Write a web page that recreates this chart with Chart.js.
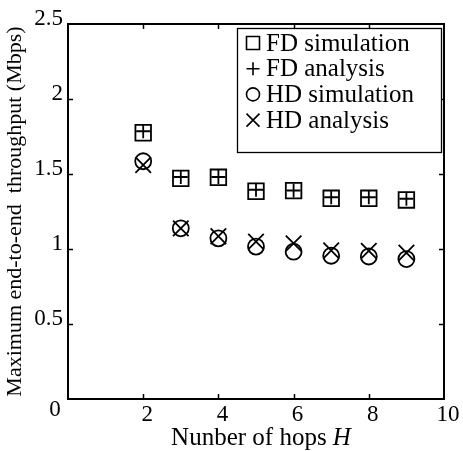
<!DOCTYPE html>
<html>
<head>
<meta charset="utf-8">
<script src="https://cdn.jsdelivr.net/npm/chart.js@4/dist/chart.umd.min.js"></script>
<style>
  html, body { margin: 0; padding: 0; background: #fff; }
</style>
</head>
<body>
<canvas id="c" width="463" height="451"></canvas>
<script>
const hops = [2, 3, 4, 5, 6, 7, 8, 9];
const fdSim = [1.775, 1.471, 1.478, 1.385, 1.389, 1.338, 1.338, 1.327];
const fdAna = [1.785, 1.48, 1.48, 1.395, 1.39, 1.345, 1.345, 1.335];
const hdSim = [1.585, 1.138, 1.071, 1.016, 0.982, 0.955, 0.95, 0.933];
const hdAna = [1.56, 1.138, 1.085, 1.049, 1.038, 0.99, 0.988, 0.975];
const seriesNames = ["FD simulation", "FD analysis", "HD simulation", "HD analysis"];
const xTicks = [2, 4, 6, 8];
const yTicks = [0.5, 1, 1.5, 2];

const serif = "'Liberation Serif', 'DejaVu Serif', serif";
const pts = (ys) => hops.map((h, i) => ({ x: h, y: ys[i] }));

function ds(label, ys, style, r) {
  return {
    label: label,
    data: pts(ys),
    pointStyle: style,
    pointRadius: r,
    pointHoverRadius: r,
    borderColor: "#000",
    backgroundColor: "rgba(0,0,0,0)",
    pointBorderWidth: 1.8,
    showLine: false
  };
}

// legend symbols, drawn by hand
function sym(ctx, style, x, y, s) {
  ctx.beginPath();
  if (style == "rect") ctx.rect(x - s, y - s, 2 * s, 2 * s);
  if (style == "cross") { ctx.moveTo(x - s, y); ctx.lineTo(x + s, y); ctx.moveTo(x, y - s); ctx.lineTo(x, y + s); }
  if (style == "circle") ctx.arc(x, y, s, 0, Math.PI * 2);
  if (style == "crossRot") { ctx.moveTo(x - s, y - s); ctx.lineTo(x + s, y + s); ctx.moveTo(x + s, y - s); ctx.lineTo(x - s, y + s); }
  ctx.stroke();
}

const frame = {
  id: "frame",
  afterDraw(chart) {
    const ctx = chart.ctx;
    const a = chart.chartArea;
    const xs = chart.scales.x, ys = chart.scales.y;
    ctx.save();
    ctx.strokeStyle = "#000";
    ctx.lineWidth = 2;
    ctx.strokeRect(a.left, a.top, a.right - a.left, a.bottom - a.top);
    ctx.lineWidth = 1.5;
    ctx.beginPath();
    xTicks.forEach(v => {
      const px = Math.round(xs.getPixelForValue(v)) + 0.5;
      ctx.moveTo(px, a.bottom); ctx.lineTo(px, a.bottom - 5);
      ctx.moveTo(px, a.top); ctx.lineTo(px, a.top + 5);
    });
    yTicks.forEach(v => {
      const py = Math.round(ys.getPixelForValue(v)) + 0.5;
      ctx.moveTo(a.left, py); ctx.lineTo(a.left + 5, py);
      ctx.moveTo(a.right, py); ctx.lineTo(a.right - 5, py);
    });
    ctx.stroke();

    // shared origin label
    ctx.fillStyle = "#000";
    ctx.font = "23px " + serif;
    ctx.textAlign = "center";
    ctx.textBaseline = "middle";
    ctx.fillText("0", 55, 410);

    // x axis title with italic H
    ctx.textBaseline = "alphabetic";
    ctx.textAlign = "left";
    const t1 = "Nunber of hops ";
    ctx.font = "25px " + serif;
    const w1 = ctx.measureText(t1).width;
    ctx.font = "italic 25px " + serif;
    const w2 = ctx.measureText("H").width;
    const x0 = (a.left + a.right) / 2 + 5 - (w1 + w2) / 2;
    ctx.font = "25px " + serif;
    ctx.fillText(t1, x0, 445);
    ctx.font = "italic 25px " + serif;
    ctx.fillText("H", x0 + w1, 445);

    // legend box
    const bx = 237, by = 28, bw = 204, bh = 124;
    ctx.fillStyle = "#fff";
    ctx.fillRect(bx, by, bw, bh);
    ctx.lineWidth = 1.3;
    ctx.strokeRect(bx + 0.5, by + 0.5, bw, bh);
    ctx.lineWidth = 1.6;
    ctx.fillStyle = "#000";
    ctx.font = "25px " + serif;
    ctx.textBaseline = "middle";
    chart.data.datasets.forEach((d, i) => {
      const yy = 43 + i * 25.7;
      sym(ctx, d.pointStyle, 253, yy, 6.5);
      ctx.fillText(seriesNames[i], 266, yy + 1);
    });
    ctx.restore();
  }
};

new Chart(document.getElementById("c"), {
  type: "scatter",
  data: {
    datasets: [
      ds(seriesNames[0], fdSim, "rect", 11),
      ds(seriesNames[1], fdAna, "cross", 7),
      ds(seriesNames[2], hdSim, "circle", 8),
      ds(seriesNames[3], hdAna, "crossRot", 11)
    ]
  },
  options: {
    responsive: false,
    devicePixelRatio: 1,
    animation: false,
    layout: { padding: { top: 24, right: 19, left: 0, bottom: 0 } },
    plugins: { legend: { display: false }, tooltip: { enabled: false } },
    scales: {
      x: {
        type: "linear",
        min: 0,
        max: 10,
        grid: { display: false, drawTicks: false },
        border: { display: false },
        ticks: {
          stepSize: 2,
          color: "#000",
          font: { family: serif, size: 23 },
          padding: 2,
          labelOffset: 4,
          maxRotation: 0,
          callback: (v) => (v == 0 ? "" : v)
        },
        afterFit: (s) => { s.height = 52; }
      },
      y: {
        min: 0,
        max: 2.5,
        grid: { display: false, drawTicks: false },
        border: { display: false },
        ticks: {
          stepSize: 0.5,
          color: "#000",
          font: { family: serif, size: 23 },
          padding: 5,
          labelOffset: -5,
          callback: (v) => (v == 0 ? "" : v)
        },
        title: {
          display: true,
          text: "Maximum end-to-end  throughput (Mbps)",
          color: "#000",
          font: { family: serif, size: 22 },
          padding: { top: 2, bottom: 0 }
        },
        afterFit: (s) => { s.width = 68; }
      }
    }
  },
  plugins: [frame]
});
</script>
</body>
</html>
